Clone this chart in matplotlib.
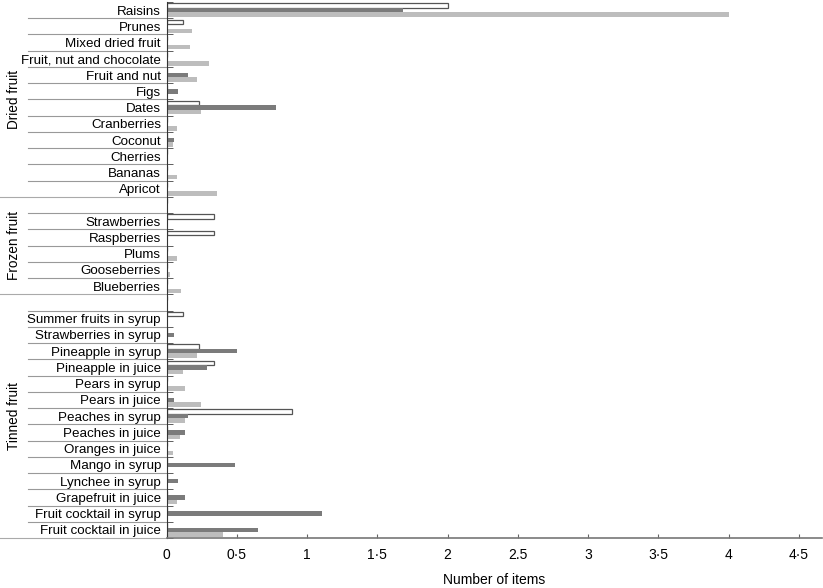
import matplotlib
matplotlib.use("Agg")
import matplotlib.pyplot as plt
import matplotlib.transforms as mtransforms
import numpy as np

plt.rcParams['font.family'] = ['Liberation Sans', 'DejaVu Sans']

groups = ['Dried fruit', 'Frozen fruit', 'Tinned fruit']
dried = ['Raisins', 'Prunes', 'Mixed dried fruit', 'Fruit, nut and chocolate',
         'Fruit and nut', 'Figs', 'Dates', 'Cranberries', 'Coconut', 'Cherries',
         'Bananas', 'Apricot']
frozen = ['', 'Strawberries', 'Raspberries', 'Plums', 'Gooseberries', 'Blueberries']
tinned = ['', 'Summer fruits in syrup', 'Strawberries in syrup', 'Pineapple in syrup',
          'Pineapple in juice', 'Pears in syrup', 'Pears in juice', 'Peaches in syrup',
          'Peaches in juice', 'Oranges in juice', 'Mango in syrup', 'Lynchee in syrup',
          'Grapefruit in juice', 'Fruit cocktail in syrup', 'Fruit cocktail in juice']

# white bars (outlined)
white_dried = [2.0, 0.12, 0, 0, 0, 0, 0.23, 0, 0, 0, 0, 0]
white_frozen = [0, 0.34, 0.34, 0, 0, 0]
white_tinned = [0, 0.12, 0, 0.23, 0.34, 0, 0, 0.89, 0, 0, 0, 0, 0, 0, 0]
# dark grey bars
dark_dried = [1.68, 0, 0, 0, 0.15, 0.08, 0.78, 0, 0.055, 0, 0, 0]
dark_frozen = [0, 0, 0, 0, 0, 0]
dark_tinned = [0, 0, 0.055, 0.50, 0.285, 0, 0.055, 0.15, 0.13, 0, 0.485, 0.08, 0.13, 1.105, 0.65]
# light grey bars
light_dried = [4.0, 0.18, 0.17, 0.30, 0.22, 0, 0.245, 0.074, 0.045, 0, 0.074, 0.36]
light_frozen = [0, 0, 0, 0.074, 0.024, 0.10]
light_tinned = [0, 0, 0, 0.22, 0.12, 0.13, 0.245, 0.13, 0.095, 0.045, 0, 0, 0.074, 0.01, 0.405]

xticks = [0, 0.5, 1, 1.5, 2, 2.5, 3, 3.5, 4, 4.5]
xticklabels = ['0', '0·5', '1', '1·5', '2', '2.5', '3', '3·5', '4', '4·5']

cats = dried + frozen + tinned
white = white_dried + white_frozen + white_tinned
dark = dark_dried + dark_frozen + dark_tinned
light = light_dried + light_frozen + light_tinned
sizes = [len(dried), len(frozen), len(tinned)]

fig = plt.figure(figsize=(8.23, 5.88), dpi=100)
ax = fig.add_axes([166.5 / 823, 1 - 538 / 588, 655.5 / 823, 536 / 588])

y = np.arange(len(cats))
h = 0.28
ax.barh(y - h, white, height=h, color='white', edgecolor='#555555', linewidth=0.9)
ax.barh(y, dark, height=h, color='#7b7b7b')
ax.barh(y + h, light, height=h, color='#bdbdbd')

ax.set_ylim(len(cats) - 0.5, -0.5)
ax.set_xlim(0, 4.665)

ax.set_yticks(y)
ax.set_yticklabels(cats, fontsize=9.6)
ax.tick_params(axis='y', which='major', length=0, pad=4)
ax.set_yticks(np.arange(len(cats) + 1) - 0.5, minor=True)
ax.tick_params(axis='y', which='minor', direction='in', length=4, color='#444444')

ax.set_xticks(xticks)
ax.set_xticklabels(xticklabels, fontsize=10)
ax.tick_params(axis='x', direction='in', length=3, color='#666666', pad=7)
ax.set_xlabel('Number of items', fontsize=10, labelpad=8)

for s in ['top', 'right']:
    ax.spines[s].set_visible(False)
ax.spines['left'].set_color('#333333')
ax.spines['bottom'].set_color('#777777')
ax.spines['bottom'].set_linewidth(1.2)

trans = mtransforms.blended_transform_factory(ax.transAxes, ax.transData)
x_short = (28 - 166.5) / 655.5
x_long = -166.5 / 655.5
start = 0
for g, n in zip(groups, sizes):
    for k in range(1, n):
        yb = start + k - 0.5
        ax.plot([x_short, 0], [yb, yb], transform=trans, color='#999999', lw=0.8, clip_on=False)
    yb = start + n - 0.5
    ax.plot([x_long, 0], [yb, yb], transform=trans, color='#aaaaaa', lw=0.8, clip_on=False)
    ax.text((14 - 166.5) / 655.5, start + (n - 1) / 2, g, transform=trans, rotation=90,
            ha='center', va='center', fontsize=9.8)
    start += n

fig.savefig('out.png', dpi=100)
